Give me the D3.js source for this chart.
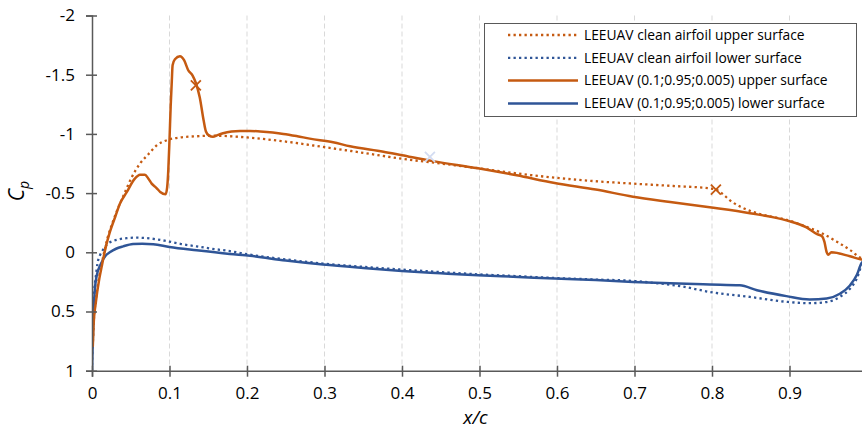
<!DOCTYPE html>
<html>
<head>
<meta charset="utf-8">
<script src="https://cdn.jsdelivr.net/npm/d3@7"></script>
<style>
  body { margin: 0; background: #fff; }
  svg { display: block; font-family: "Open Sans", sans-serif; }
</style>
</head>
<body>
<div id="chart"></div>
<script>
// x/c and Cp, one pair of arrays per series
var cleanUpperX = [0.001, 0.002, 0.005, 0.0095, 0.014, 0.02, 0.027, 0.034, 0.042, 0.051, 0.062, 0.073, 0.083, 0.098, 0.114, 0.135, 0.156, 0.2, 0.25, 0.298, 0.35, 0.4, 0.45, 0.498, 0.55, 0.597, 0.65, 0.698, 0.75, 0.797, 0.805, 0.827, 0.849, 0.87, 0.896, 0.922, 0.939, 0.961, 0.978, 0.993, 1.0];
var cleanUpperCp = [0.80, 0.62, 0.40, 0.20, 0.05, -0.12, -0.26, -0.38, -0.50, -0.63, -0.75, -0.83, -0.90, -0.95, -0.97, -0.98, -0.985, -0.97, -0.935, -0.89, -0.84, -0.79, -0.75, -0.71, -0.665, -0.63, -0.60, -0.58, -0.56, -0.54, -0.53, -0.42, -0.35, -0.31, -0.275, -0.215, -0.17, -0.09, -0.02, 0.05, 0.06];

var cleanLowerX = [0.0, 0.001, 0.003, 0.005, 0.007, 0.01, 0.0138, 0.019, 0.027, 0.035, 0.045, 0.057, 0.07, 0.083, 0.096, 0.115, 0.135, 0.155, 0.178, 0.204, 0.25, 0.298, 0.35, 0.4, 0.45, 0.498, 0.55, 0.597, 0.65, 0.698, 0.72, 0.763, 0.797, 0.849, 0.896, 0.926, 0.948, 0.965, 0.978, 0.987, 0.993, 1.0];
var cleanLowerCp = [1.0, 0.6, 0.32, 0.2, 0.096, 0.03, -0.017, -0.065, -0.095, -0.11, -0.12, -0.124, -0.12, -0.11, -0.095, -0.07, -0.05, -0.03, -0.01, 0.02, 0.06, 0.095, 0.123, 0.146, 0.167, 0.186, 0.202, 0.217, 0.23, 0.242, 0.255, 0.29, 0.335, 0.377, 0.418, 0.43, 0.42, 0.377, 0.307, 0.22, 0.11, 0.06];

var tripUpperX = [0.001, 0.002, 0.005, 0.0095, 0.0125, 0.018, 0.023, 0.03, 0.036, 0.045, 0.055, 0.062, 0.068, 0.073, 0.077, 0.083, 0.088, 0.095, 0.097, 0.0985, 0.1, 0.1015, 0.103, 0.104, 0.107, 0.1135, 0.119, 0.124, 0.13, 0.134, 0.139, 0.144, 0.147, 0.151, 0.156, 0.162, 0.169, 0.18, 0.191, 0.204, 0.217, 0.247, 0.265, 0.281, 0.311, 0.333, 0.376, 0.4, 0.44, 0.498, 0.548, 0.597, 0.65, 0.698, 0.746, 0.797, 0.849, 0.896, 0.922, 0.935, 0.942, 0.945, 0.948, 0.95, 0.954, 0.978, 0.993, 1.0];
var tripUpperCp = [0.80, 0.62, 0.42, 0.22, 0.12, -0.05, -0.17, -0.30, -0.41, -0.51, -0.62, -0.655, -0.655, -0.62, -0.58, -0.545, -0.51, -0.49, -0.55, -0.70, -0.95, -1.23, -1.45, -1.58, -1.63, -1.655, -1.62, -1.54, -1.49, -1.43, -1.31, -1.115, -1.02, -0.985, -0.975, -0.99, -1.005, -1.02, -1.025, -1.025, -1.02, -1.0, -0.98, -0.96, -0.93, -0.895, -0.85, -0.82, -0.77, -0.71, -0.65, -0.585, -0.53, -0.47, -0.425, -0.38, -0.33, -0.27, -0.21, -0.155, -0.135, -0.09, 0.0, 0.02, 0.0, 0.034, 0.06, 0.065];

var tripLowerX = [0.0, 0.0017, 0.004, 0.006, 0.0116, 0.018, 0.023, 0.031, 0.04, 0.053, 0.065, 0.079, 0.1, 0.135, 0.178, 0.204, 0.25, 0.298, 0.35, 0.4, 0.45, 0.498, 0.55, 0.597, 0.65, 0.698, 0.746, 0.797, 0.836, 0.858, 0.896, 0.926, 0.948, 0.965, 0.978, 0.987, 0.993, 1.0];
var tripLowerCp = [1.0, 0.57, 0.29, 0.2, 0.096, 0.025, 0.0, -0.03, -0.05, -0.07, -0.073, -0.068, -0.045, -0.017, 0.014, 0.03, 0.07, 0.104, 0.133, 0.158, 0.177, 0.194, 0.208, 0.222, 0.235, 0.25, 0.262, 0.272, 0.279, 0.32, 0.37, 0.398, 0.39, 0.35, 0.28, 0.19, 0.09, 0.06];

var seriesNames = [
  "LEEUAV clean airfoil upper surface",
  "LEEUAV clean airfoil lower surface",
  "LEEUAV (0.1;0.95;0.005) upper surface",
  "LEEUAV (0.1;0.95;0.005) lower surface"
];
var seriesColors = ["#c55a11", "#2f5597", "#c55a11", "#2f5597"];
var seriesDotted = [true, true, false, false];

// transition markers (x)
var markerX = [0.134, 0.805, 0.436];
var markerCp = [-1.41, -0.53, -0.805];
var markerColors = ["#c55a11", "#c55a11", "#d3dcf2"];

var xTicks = [0, 0.1, 0.2, 0.3, 0.4, 0.5, 0.6, 0.7, 0.8, 0.9, 1];
var yTicks = [-2, -1.5, -1, -0.5, 0, 0.5, 1];

var width = 862, height = 430;

var svg = d3.select("#chart").append("svg")
    .attr("width", width)
    .attr("height", height);

var x = d3.scaleLinear().domain([0, 1]).range([92, 867]);
var y = d3.scaleLinear().domain([-2, 1]).range([15.5, 370.7]);

var series = [
  {xs: cleanUpperX, ys: cleanUpperCp},
  {xs: cleanLowerX, ys: cleanLowerCp},
  {xs: tripUpperX, ys: tripUpperCp},
  {xs: tripLowerX, ys: tripLowerCp}
].map(function (s, i) {
  return {
    name: seriesNames[i], color: seriesColors[i], dotted: seriesDotted[i],
    points: s.xs.map(function (v, j) { return [v, s.ys[j]]; })
  };
});

// vertical dashed gridlines
svg.append("g").selectAll("line")
    .data(xTicks.slice(1))
    .enter().append("line")
    .attr("x1", d => x(d)).attr("x2", d => x(d))
    .attr("y1", y(-2)).attr("y2", y(1))
    .style("stroke", "#d9d9d9")
    .style("stroke-width", 1)
    .style("stroke-dasharray", "5,3");

svg.append("clipPath").attr("id", "plot")
    .append("rect")
    .attr("x", x(0)).attr("y", 0)
    .attr("width", x(1) - x(0)).attr("height", y(1));

var line = d3.line()
    .x(d => x(d[0]))
    .y(d => y(d[1]))
    .curve(d3.curveMonotoneX);

// dotted clean curves underneath, tripped curves on top
var order = [0, 1, 3, 2];
svg.append("g").attr("clip-path", "url(#plot)")
    .selectAll("path")
    .data(order.map(i => series[i]))
    .enter().append("path")
    .attr("d", d => line(d.points))
    .style("fill", "none")
    .style("stroke", d => d.color)
    .style("stroke-width", d => d.dotted ? 2.3 : 2.5)
    .style("stroke-dasharray", d => d.dotted ? "2.3,3.2" : null)
    .style("stroke-linejoin", "round");

// x markers
var ms = 5;
svg.append("g").selectAll("path")
    .data(markerX.map((v, i) => [v, markerCp[i], markerColors[i]]))
    .enter().append("path")
    .attr("d", function (d) {
      var cx = x(d[0]), cy = y(d[1]);
      return "M" + (cx - ms) + "," + (cy - ms) + "L" + (cx + ms) + "," + (cy + ms) +
             "M" + (cx - ms) + "," + (cy + ms) + "L" + (cx + ms) + "," + (cy - ms);
    })
    .style("stroke", d => d[2])
    .style("stroke-width", 1.8)
    .style("fill", "none");

// axes
var axisColor = "#595959";
var yAxis = svg.append("g")
    .attr("transform", "translate(" + x(0) + ",0)")
    .call(d3.axisLeft(y).tickValues(yTicks).tickSizeOuter(0).tickSize(6).tickPadding(12)
          .tickFormat(d => String(d)));
var xAxis = svg.append("g")
    .attr("transform", "translate(0," + y(1) + ")")
    .call(d3.axisBottom(x).tickValues(xTicks).tickSizeOuter(0).tickSize(6).tickPadding(10)
          .tickFormat(d => String(d)));

[yAxis, xAxis].forEach(function (g) {
  g.select(".domain").style("stroke", axisColor).style("stroke-width", 1.5);
  g.selectAll(".tick line").style("stroke", axisColor).style("stroke-width", 1.5);
  g.selectAll(".tick text")
      .style("font-family", "'Open Sans', sans-serif")
      .style("font-size", "17px")
      .style("fill", "#000");
});
yAxis.selectAll(".tick line").attr("x1", 5);
yAxis.selectAll(".tick text").attr("x", -17);
xAxis.selectAll(".tick line").attr("y1", -5);

// axis titles
svg.append("text")
    .attr("x", x(0.5) - 4)
    .attr("y", 424)
    .style("text-anchor", "middle")
    .style("font-style", "italic")
    .style("font-size", "19px")
    .text("x/c");

var yl = svg.append("text")
    .attr("transform", "translate(24,191) rotate(-90)")
    .style("text-anchor", "middle")
    .style("font-style", "italic")
    .style("font-size", "21px");
yl.append("tspan").text("C");
yl.append("tspan").attr("dy", 5).style("font-size", "14px").text("p");

// legend
var legend = svg.append("g");
legend.append("rect")
    .attr("x", 484.5).attr("y", 23.5)
    .attr("width", 372).attr("height", 93)
    .style("fill", "#fff")
    .style("stroke", "#595959")
    .style("stroke-width", 1);

var rows = legend.selectAll("g.row")
    .data(series)
    .enter().append("g")
    .attr("class", "row")
    .attr("transform", (d, i) => "translate(0," + (35 + i * 22.8) + ")");
rows.append("line")
    .attr("x1", 508).attr("x2", 578)
    .attr("y1", 0).attr("y2", 0)
    .style("stroke", d => d.color)
    .style("stroke-width", d => d.dotted ? 2.3 : 2.5)
    .style("stroke-dasharray", d => d.dotted ? "2.3,3.2" : null);
rows.append("text")
    .attr("x", 584)
    .attr("y", 0)
    .attr("dy", "0.35em")
    .style("font-size", "13.8px")
    .style("fill", "#000")
    .text(d => d.name);
</script>
</body>
</html>
